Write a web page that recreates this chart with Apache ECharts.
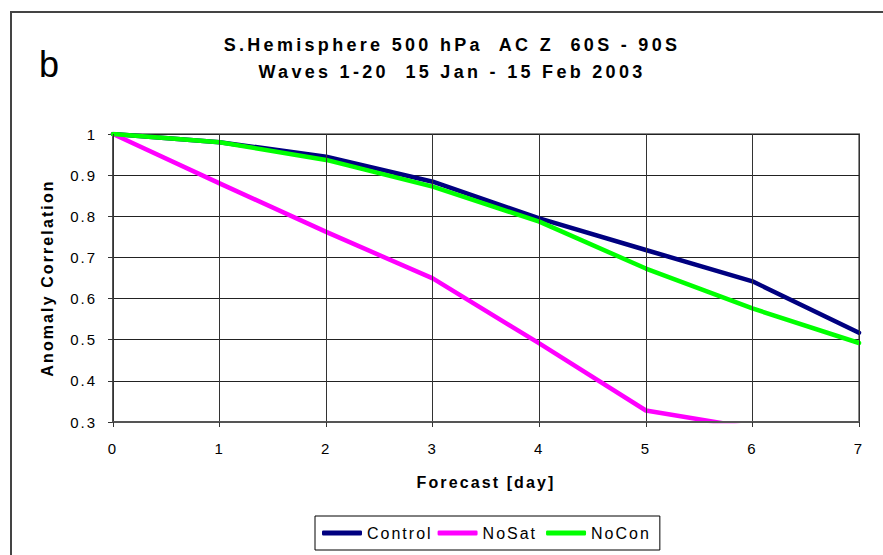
<!DOCTYPE html>
<html>
<head>
<meta charset="utf-8">
<script src="https://cdn.jsdelivr.net/npm/echarts@6/dist/echarts.min.js"></script>
<style>
  html, body { margin: 0; padding: 0; background: #fff; }
  #chart { width: 883px; height: 555px; }
  /* loose, spreadsheet-style character spacing */
  #chart text { letter-spacing: 2px; }
  #chart text[style*="bold"] { letter-spacing: 2.1px; }
  #chart text[style*="18px"] { letter-spacing: 3.3px; }
  #chart text[style*="36px"] { letter-spacing: 0; }
</style>
</head>
<body>
<div id="chart"></div>
<script>
// Forecast day and anomaly correlation per experiment
const days = [0, 1, 2, 3, 4, 5, 6, 7];
const control = [1.0, 0.98, 0.945, 0.884, 0.795, 0.718, 0.642, 0.517];
const noSat = [1.0, 0.88, 0.762, 0.649, 0.491, 0.328, 0.285, 0.24];
const noCon = [1.0, 0.98, 0.937, 0.872, 0.787, 0.673, 0.576, 0.492];

const seriesNames = ['Control', 'NoSat', 'NoCon'];
const seriesColors = ['#000080', '#ff00ff', '#00ff00'];
const seriesValues = [control, noSat, noCon];

const titleLines = ['S.Hemisphere 500 hPa  AC Z  60S - 90S', 'Waves 1-20  15 Jan - 15 Feb 2003'];
const panelLetter = 'b';
const xName = 'Forecast [day]';
const yName = 'Anomaly Correlation';

const FONT = '"Liberation Sans", Arial, sans-serif';

const chart = echarts.init(document.getElementById('chart'), null, { renderer: 'svg' });

const GRID = { left: 113, right: 24, top: 134, bottom: 133 };
const W = 883, H = 555;

chart.setOption({
  animation: false,
  backgroundColor: '#fff',
  title: {
    text: titleLines.join('\n'),
    left: 447,
    top: 26,
    textAlign: 'center',
    textStyle: { fontFamily: FONT, fontSize: 18, fontWeight: 'bold', color: '#000', lineHeight: 27 }
  },
  graphic: [
    {
      type: 'rect', silent: true, z: -1,
      shape: { x: 11, y: 12, width: 920, height: 620 },
      style: { fill: 'none', stroke: '#444', lineWidth: 2 }
    },
    {
      type: 'text', silent: true,
      left: 39, top: 46,
      style: { text: panelLetter, fontFamily: FONT, fontSize: 36, fill: '#000' }
    },
    {
      // trims line overshoot below the category axis so curves stop at the axis
      type: 'rect', silent: true, z: 4,
      shape: { x: GRID.left + 1, y: H - GRID.bottom + 1.3, width: W - GRID.left - GRID.right + 4, height: 6 },
      style: { fill: '#fff' }
    }
  ],
  legend: {
    data: seriesNames,
    left: 315, top: 516,
    padding: [9, 19, 9, 7],
    itemGap: 19,
    itemWidth: 40, itemHeight: 5,
    icon: 'roundRect',
    borderColor: '#000', borderWidth: 1,
    backgroundColor: '#fff',
    textStyle: { fontFamily: FONT, fontSize: 16, color: '#000' }
  },
  grid: Object.assign({
    show: true, borderColor: '#8a8a8a', borderWidth: 2, backgroundColor: '#fff'
  }, GRID),
  xAxis: {
    type: 'value', min: 0, max: 7, interval: 1, z: 6,
    name: xName, nameLocation: 'middle', nameGap: 52,
    nameTextStyle: { fontFamily: FONT, fontSize: 16, fontWeight: 'bold', color: '#000' },
    axisLine: { show: true, lineStyle: { color: '#555', width: 2 } },
    axisTick: { show: true, length: 5, lineStyle: { color: '#333', width: 1 } },
    axisLabel: { fontFamily: FONT, fontSize: 15, color: '#000', margin: 19 },
    splitLine: { show: true, lineStyle: { color: '#333', width: 1 } }
  },
  yAxis: {
    type: 'value', min: 0.3, max: 1, interval: 0.1,
    name: yName, nameLocation: 'middle', nameGap: 58,
    nameTextStyle: { fontFamily: FONT, fontSize: 16, fontWeight: 'bold', color: '#000' },
    axisLine: { show: true, lineStyle: { color: '#555', width: 2 } },
    axisTick: { show: true, length: 5, lineStyle: { color: '#333', width: 1 } },
    axisLabel: {
      fontFamily: FONT, fontSize: 15, color: '#000', margin: 16,
      formatter: v => String(+v.toFixed(1))
    },
    splitLine: { show: true, lineStyle: { color: '#222', width: 1 } }
  },
  series: seriesNames.map((name, i) => ({
    name,
    type: 'line',
    data: days.map((d, j) => [d, seriesValues[i][j]]),
    showSymbol: false,
    symbol: 'none',
    color: seriesColors[i],
    lineStyle: { color: seriesColors[i], width: 4.5, cap: 'round', join: 'round' },
    clip: true
  }))
});
</script>
</body>
</html>
